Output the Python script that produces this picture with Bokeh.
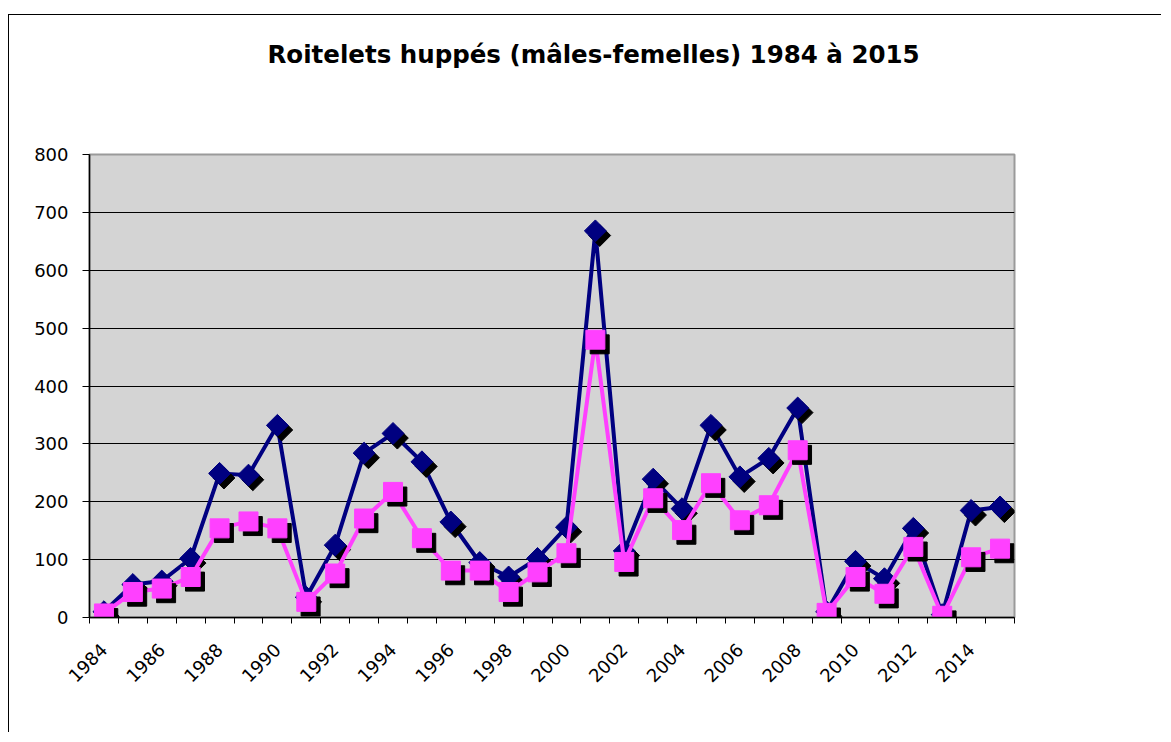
import math
from bokeh.plotting import figure
from bokeh.models import ColumnDataSource, FixedTicker, Range1d, Title
from bokeh.transform import dodge
from bokeh.embed import file_html
from bokeh.resources import INLINE

years = list(range(1984, 2016))
males = [10, 57, 63, 102, 249, 246, 332, 35, 125, 284, 318, 269, 165, 95, 70,
         102, 156, 668, 115, 239, 188, 332, 243, 275, 362, 10, 97, 67, 154, 5, 185, 191]
females = [7, 44, 50, 70, 154, 166, 154, 27, 76, 171, 217, 137, 81, 81, 44,
           78, 111, 480, 96, 206, 151, 232, 168, 194, 289, 8, 70, 41, 122, 3, 104, 119]
year_labels = [str(y) for y in years if y % 2 == 0]
y_ticks = [0, 100, 200, 300, 400, 500, 600, 700, 800]
title_text = "Roitelets huppés (mâles-femelles) 1984 à 2015"

src = ColumnDataSource(data=dict(year=years, m=males, f=females))

FONT = "DejaVu Sans"
NAVY = "#000080"
PINK = "#FF40FF"

p = figure(width=1153, height=718, output_backend="svg", toolbar_location=None,
           title=None,
           x_range=Range1d(years[0] - 0.5, years[-1] + 0.5),
           y_range=Range1d(0, 800),
           min_border_left=80, min_border_right=148, min_border_top=139, min_border_bottom=116)
p.styles = {"margin-top": "14px", "margin-left": "8px",
            "border-top": "1.5px solid black", "border-left": "1.5px solid black"}

# spacer between the frame and the title, then the title itself
spacer = Title(text=" ", text_font_size="1px", standoff=83)
p.add_layout(spacer, "above")
main_title = Title(text=title_text, text_font=FONT, text_font_size="24.5px",
                   text_font_style="bold", text_color="black",
                   align="left", offset=178, standoff=0)
p.add_layout(main_title, "above")

p.background_fill_color = "#D4D4D4"
p.border_fill_color = "white"
p.outline_line_color = "#9A9A9A"
p.outline_line_width = 2

# x axis
xt = FixedTicker(ticks=[y for y in years if y % 2 == 0],
                 minor_ticks=[y - 0.5 for y in years] + [years[-1] + 0.5])
p.xaxis.ticker = xt
p.xaxis.major_label_overrides = {y: s for y, s in zip([y for y in years if y % 2 == 0], year_labels)}
p.xaxis.major_tick_out = 0
p.xaxis.major_tick_in = 0
p.xaxis.minor_tick_out = 6
p.xaxis.minor_tick_in = 0
p.xaxis.major_label_orientation = math.pi / 4
p.xaxis.major_label_text_font = FONT
p.xaxis.major_label_text_font_size = "18px"
p.xaxis.major_label_text_color = "black"
p.xaxis.major_label_standoff = 23
p.xaxis.axis_line_color = "black"
p.xaxis.axis_line_width = 1.5

# y axis
p.yaxis.ticker = FixedTicker(ticks=y_ticks)
p.yaxis.major_tick_out = 7
p.yaxis.major_tick_in = 0
p.yaxis.minor_tick_out = 0
p.yaxis.minor_tick_in = 0
p.yaxis.major_label_text_font = FONT
p.yaxis.major_label_text_font_size = "18px"
p.yaxis.major_label_text_color = "black"
p.yaxis.major_label_standoff = 14
p.yaxis.axis_line_color = "black"
p.yaxis.axis_line_width = 1.5

p.xgrid.visible = False
p.ygrid.ticker = FixedTicker(ticks=y_ticks[1:-1])
p.ygrid.grid_line_color = "black"
p.ygrid.grid_line_width = 1.2

# males
p.line("year", "m", source=src, line_color=NAVY, line_width=4)
p.scatter(dodge("year", 0.15), dodge("m", -8), source=src, marker="square",
          angle=math.pi / 4, size=15.5, fill_color="black", line_color="black")
p.scatter("year", "m", source=src, marker="square", angle=math.pi / 4, size=15.5,
          fill_color=NAVY, line_color=NAVY)

# females
p.line("year", "f", source=src, line_color=PINK, line_width=4)
p.scatter(dodge("year", 0.15), dodge("f", -8), source=src, marker="square",
          size=19, fill_color="black", line_color="black")
p.scatter("year", "f", source=src, marker="square", size=19,
          fill_color=PINK, line_color=PINK)

open("out.html", "w").write(file_html(p, INLINE))
